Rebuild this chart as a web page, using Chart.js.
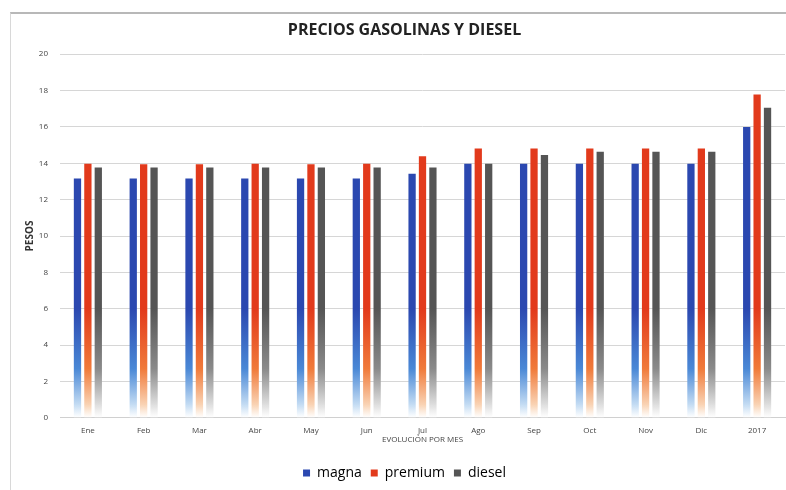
<!DOCTYPE html>
<html>
<head>
<meta charset="utf-8">
<script src="https://cdn.jsdelivr.net/npm/chart.js@4.4.1/dist/chart.umd.min.js"></script>
<style>
  html, body { margin: 0; padding: 0; background: #ffffff; }
  #wrap { position: relative; width: 786px; height: 490px; }
  #frame { position: absolute; left: 10px; top: 12px; width: 790px; height: 490px;
           border-top: 2px solid #b8b8b8; border-left: 1px solid #d8d8d8; }
  #pesos { position: absolute; left: 0; top: 0; }
</style>
</head>
<body>
<div id="wrap">
  <div id="frame"></div>
  <canvas id="pesos" width="786" height="490"></canvas>
</div>
<script>
// datos
var meses = ['Ene', 'Feb', 'Mar', 'Abr', 'May', 'Jun', 'Jul', 'Ago', 'Sep', 'Oct', 'Nov', 'Dic', '2017'];
var magna   = [13.16, 13.16, 13.16, 13.16, 13.16, 13.16, 13.43, 13.98, 13.98, 13.98, 13.98, 13.98, 15.99];
var premium = [13.98, 13.95, 13.95, 13.98, 13.95, 13.98, 14.38, 14.81, 14.81, 14.81, 14.81, 14.81, 17.79];
var diesel  = [13.77, 13.77, 13.77, 13.77, 13.77, 13.77, 13.77, 13.98, 14.45, 14.63, 14.63, 14.63, 17.05];
var yTicks  = [0, 2, 4, 6, 8, 10, 12, 14, 16, 18, 20];

// degradado hacia blanco en la base de cada barra
function fade(top, mid, low) {
    return function(context) {
        var chart = context.chart;
        var y = chart.scales.y;
        if (!chart.chartArea || !y) return top;
        var g = chart.ctx.createLinearGradient(0, y.getPixelForValue(0), 0, y.getPixelForValue(6));
        g.addColorStop(0, 'rgba(255,255,255,0.9)');
        g.addColorStop(0.12, low);
        g.addColorStop(0.45, mid);
        g.addColorStop(1, top);
        return g;
    };
}

var ctx = document.getElementById('pesos').getContext('2d');
var chart = new Chart(ctx, {
    type: 'bar',
    data: {
        labels: meses,
        datasets: [{
            label: 'magna',
            data: magna,
            backgroundColor: fade('#2b48b0', '#4a88d6', '#c4dcf3')
        }, {
            label: 'premium',
            data: premium,
            backgroundColor: fade('#e23a1c', '#f07a3a', '#f9d3b4')
        }, {
            label: 'diesel',
            data: diesel,
            backgroundColor: fade('#555555', '#8a8a8a', '#dedede')
        }]
    },
    options: {
        responsive: false,
        animation: false,
        categoryPercentage: 0.56,
        barPercentage: 0.7,
        layout: { padding: { left: 24, right: 1, top: 8, bottom: 0 } },
        plugins: {
            title: {
                display: true,
                text: 'PRECIOS GASOLINAS Y DIESEL',
                color: '#222222',
                font: { family: 'Open Sans', size: 16, weight: 'bold' },
                padding: { top: 13, bottom: 14 }
            },
            legend: {
                position: 'bottom',
                labels: {
                    boxWidth: 7,
                    boxHeight: 7,
                    padding: 9,
                    color: '#333333',
                    font: { family: 'Open Sans', size: 14 },
                    generateLabels: function(c) {
                        var cols = ['#2b48b0', '#e23a1c', '#555555'];
                        return c.data.datasets.map(function(ds, i) {
                            return { text: ds.label, fillStyle: cols[i], strokeStyle: cols[i], lineWidth: 0, datasetIndex: i };
                        });
                    }
                }
            },
            tooltip: { enabled: false }
        },
        scales: {
            x: {
                grid: { display: false },
                border: { color: '#d0d0d0' },
                ticks: { color: '#444444', font: { family: 'Open Sans', size: 8 }, padding: 0 },
                title: {
                    display: true,
                    text: 'EVOLUCIÓN POR MES',
                    color: '#444444',
                    font: { family: 'Open Sans', size: 8 },
                    padding: { top: 0, bottom: 12 }
                }
            },
            y: {
                min: 0,
                max: 20,
                afterBuildTicks: function(axis) {
                    axis.ticks = yTicks.map(function(v) { return { value: v }; });
                },
                afterFit: function(axis) {
                    axis.width = 36;
                },
                grid: { color: '#d6d6d6', drawTicks: false },
                border: { display: false },
                ticks: { color: '#444444', font: { family: 'Open Sans', size: 8 }, padding: 12 },
                title: {
                    display: true,
                    text: 'PESOS',
                    color: '#333333',
                    font: { family: 'Open Sans', size: 10, weight: 'bold' },
                    padding: { top: 0, bottom: 0 }
                }
            }
        }
    }
});
</script>
</body>
</html>
